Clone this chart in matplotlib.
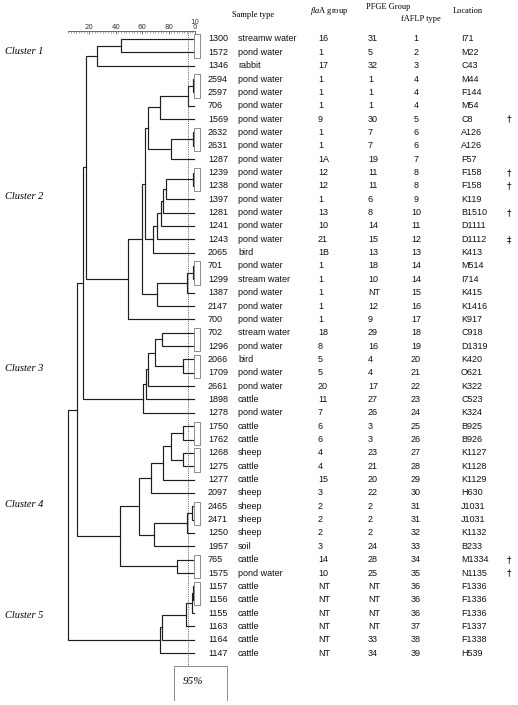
import matplotlib.pyplot as plt
from matplotlib import transforms
from matplotlib.patches import Rectangle
from matplotlib.ticker import FixedLocator

plt.rcParams['mathtext.fontset'] = 'custom'
plt.rcParams['mathtext.it'] = 'Liberation Serif:italic'
plt.rcParams['mathtext.rm'] = 'Liberation Serif'

# isolates, top to bottom
ids = ["1300", "1572", "1346", "2594", "2597", "706", "1569", "2632", "2631", "1287",
       "1239", "1238", "1397", "1281", "1241", "1243", "2065", "701", "1299", "1387",
       "2147", "700", "702", "1296", "2066", "1709", "2661", "1898", "1278", "1750",
       "1762", "1268", "1275", "1277", "2097", "2465", "2471", "1250", "1957", "765",
       "1575", "1157", "1156", "1155", "1163", "1164", "1147"]
sample_type = ["streamw water", "pond water", "rabbit", "pond water", "pond water",
               "pond water", "pond water", "pond water", "pond water", "pond water",
               "pond water", "pond water", "pond water", "pond water", "pond water",
               "pond water", "bird", "pond water", "stream water", "pond water",
               "pond water", "pond water", "stream water", "pond water", "bird",
               "pond water", "pond water", "cattle", "pond water", "cattle", "cattle",
               "sheep", "cattle", "cattle", "sheep", "sheep", "sheep", "sheep", "soil",
               "cattle", "pond water", "cattle", "cattle", "cattle", "cattle", "cattle",
               "cattle"]
fla_group = ["16", "1", "17", "1", "1", "1", "9", "1", "1", "1A", "12", "12", "1", "13",
             "10", "21", "1B", "1", "1", "1", "1", "1", "18", "8", "5", "5", "20", "11",
             "7", "6", "6", "4", "4", "15", "3", "2", "2", "2", "3", "14", "10", "NT",
             "NT", "NT", "NT", "NT", "NT"]
pfge_group = ["31", "5", "32", "1", "1", "1", "30", "7", "7", "19", "11", "11", "6", "8",
              "14", "15", "13", "18", "10", "NT", "12", "9", "29", "16", "4", "4", "17",
              "27", "26", "3", "3", "23", "21", "20", "22", "2", "2", "2", "24", "28",
              "25", "NT", "NT", "NT", "NT", "33", "34"]
faflp_type = [1, 2, 3, 4, 4, 4, 5, 6, 6, 7, 8, 8, 9, 10, 11, 12, 13, 14, 14, 15, 16, 17,
              18, 19, 20, 21, 22, 23, 24, 25, 26, 27, 28, 29, 30, 31, 31, 32, 33, 34, 35,
              36, 36, 36, 37, 38, 39]
location = ["I71", "M22", "C43", "M44", "F144", "M54", "C8", "A126", "A126", "F57",
            "F158", "F158", "K119", "B1510", "D1111", "D1112", "K413", "M514", "I714",
            "K415", "K1416", "K917", "C918", "D1319", "K420", "O621", "K322", "C523",
            "K324", "B925", "B926", "K1127", "K1128", "K1129", "H630", "J1031", "J1031",
            "K1132", "B233", "M1334", "N1135", "F1336", "F1336", "F1336", "F1337",
            "F1338", "H539"]
footnote = {"1569": "\u2020", "1239": "\u2020", "1238": "\u2020", "1281": "\u2020",
            "1243": "\u2021", "765": "\u2020", "1575": "\u2020"}

# merges: (node, child a, child b, % similarity)
merges = [
    ("n1", "1300", "1572", 43.7), ("c1", "n1", "1346", 26.0),
    ("n2", "2594", "2597", 98.3), ("n3", "n2", "706", 95.0), ("n4", "n3", "1569", 73.5),
    ("n5", "2632", "2631", 98.3), ("n6", "n5", "1287", 81.5), ("H", "n4", "n6", 64.6),
    ("n7", "1239", "1238", 98.5), ("n8", "n7", "1397", 78.0), ("n9", "n8", "1281", 76.0),
    ("n10", "n9", "1241", 74.0), ("n11", "n10", "1243", 71.5), ("I", "n11", "2065", 68.4),
    ("F", "H", "I", 62.0),
    ("n12", "701", "1299", 98.7), ("n13", "n12", "1387", 94.0), ("G", "n13", "2147", 71.5),
    ("E", "F", "G", 59.6), ("c2", "E", "700", 49.5),
    ("n14", "702", "1296", 75.0), ("n15", "2066", "1709", 91.0), ("n16", "n14", "n15", 69.7),
    ("n17", "n16", "2661", 64.6), ("n18", "n17", "1898", 63.2), ("c3", "n18", "1278", 60.8),
    ("n19", "1750", "1762", 90.6), ("n20", "1268", "1275", 90.6), ("n21", "n19", "n20", 81.5),
    ("n22", "n21", "1277", 76.0), ("n23", "n22", "2097", 67.0),
    ("n24", "2465", "2471", 98.0), ("n25", "n24", "1250", 93.7), ("n26", "n25", "1957", 69.0),
    ("n27", "n23", "n26", 57.8), ("n28", "765", "1575", 86.0), ("c4", "n27", "n28", 43.2),
    ("n29", "1157", "1156", 98.5), ("n30", "n29", "1155", 97.5), ("n31", "n30", "1163", 93.5),
    ("n32", "n31", "1164", 74.7), ("c5", "n32", "1147", 73.3),
    ("A", "c1", "c2", 17.5), ("C", "A", "c3", 15.0), ("D", "C", "c4", 10.9),
    ("root", "D", "c5", 3.8),
]
boxed_pairs = [("1300", "1572"), ("2594", "2597"), ("2632", "2631"), ("1239", "1238"),
               ("701", "1299"), ("702", "1296"), ("2066", "1709"), ("1750", "1762"),
               ("1268", "1275"), ("2465", "2471"), ("765", "1575"), ("1157", "1156")]
cluster_names = ["Cluster 1", "Cluster 2", "Cluster 3", "Cluster 4", "Cluster 5"]
cluster_rows = [0.9, 11.8, 24.7, 34.9, 43.2]
cutoff = 95

W, H = 518, 705
fig = plt.figure(figsize=(W / 100, H / 100), dpi=100)
ax = fig.add_axes([63 / W, 1 - 700 / H, 132 / W, 669 / H])
ax.set_xlim(0, 100)
ax.set_ylim(49.51, -0.599)

line_c = '#1e1e1e'
leaf_end = 99.5
pos = {leaf: (leaf_end, i) for i, leaf in enumerate(ids)}
for name, a, b, sim in merges:
    xa, ya = pos[a]
    xb, yb = pos[b]
    ax.plot([xa, sim, sim, xb], [ya, ya, yb, yb], color=line_c, lw=0.85,
            clip_on=False, solid_joinstyle='miter')
    pos[name] = (sim, (ya + yb) / 2)

row = {leaf: i for i, leaf in enumerate(ids)}
for a, b in boxed_pairs:
    r0, r1 = row[a], row[b]
    ax.add_patch(Rectangle((99.3, r0 - 0.35), 4.6, r1 - r0 + 0.75, facecolor='white',
                           edgecolor='#8c8c8c', lw=0.7, clip_on=False, zorder=3))

# cut-off line and label box
ax.plot([cutoff, cutoff], [-0.6, 47.0], color='#444444', lw=0.6, ls=(0, (1, 1.2)),
        clip_on=False, zorder=2)
ax.plot([84, 84, 124, 124], [49.5, 47.0, 47.0, 49.5], color='#8c8c8c', lw=0.7,
        clip_on=False)
ax.text(98.5, 48.1, f"{cutoff}%", ha='center', va='center', fontsize=8,
        family='Liberation Serif', style='italic')

# similarity scale on top
for s in ['left', 'right', 'bottom']:
    ax.spines[s].set_visible(False)
ax.spines['top'].set_bounds(4, 100)
ax.spines['top'].set_color('#555555')
ax.spines['top'].set_linewidth(0.6)
ax.xaxis.set_ticks_position('top')
ax.set_xticks([20, 40, 60, 80, 100])
ax.set_xticklabels(['20', '40', '60', '80', '10\n0'])
ax.xaxis.set_minor_locator(FixedLocator(range(4, 101, 2)))
ax.tick_params(axis='x', which='major', direction='in', length=2.5, width=0.5,
               labelsize=5, pad=1, colors='#333333')
ax.tick_params(axis='x', which='minor', direction='in', length=1.5, width=0.4,
               colors='#555555')
for lbl in ax.get_xticklabels():
    lbl.set_linespacing(0.75)
ax.set_yticks([])

# table columns
tr = transforms.blended_transform_factory(fig.transFigure, ax.transData)
sans = dict(fontsize=6.5, family='Liberation Sans', va='center', transform=tr,
            color='#111111')
for i in range(len(ids)):
    ax.text(208 / W, i, ids[i], ha='left', **sans)
    ax.text(238 / W, i, sample_type[i], ha='left', **sans)
    ax.text(318 / W, i, fla_group[i], ha='left', **sans)
    ax.text(368 / W, i, pfge_group[i], ha='left', **sans)
    ax.text(416 / W, i, str(faflp_type[i]), ha='center', **sans)
    ax.text(461 / W, i, location[i], ha='left', **sans)
    if ids[i] in footnote:
        ax.text(509 / W, i, footnote[ids[i]], ha='center', va='center', fontsize=6.5,
                family='DejaVu Sans', transform=tr)

for name, r in zip(cluster_names, cluster_rows):
    ax.text(5 / W, r, name, ha='left', va='center', fontsize=7.5,
            family='Liberation Serif', style='italic', transform=tr)

serif = dict(fontsize=6, family='Liberation Serif', va='center', ha='left')
fig.text(232 / W, 1 - 15 / H, "Sample type", **serif)
fig.text(310 / W, 1 - 11 / H, r"$\mathit{fla}$A group", **serif)
fig.text(366 / W, 1 - 7 / H, "PFGE Group", **serif)
fig.text(401 / W, 1 - 19 / H, "fAFLP type", **serif)
fig.text(453 / W, 1 - 11 / H, "Location", **serif)

fig.savefig('out.png', dpi=100, facecolor='white')
